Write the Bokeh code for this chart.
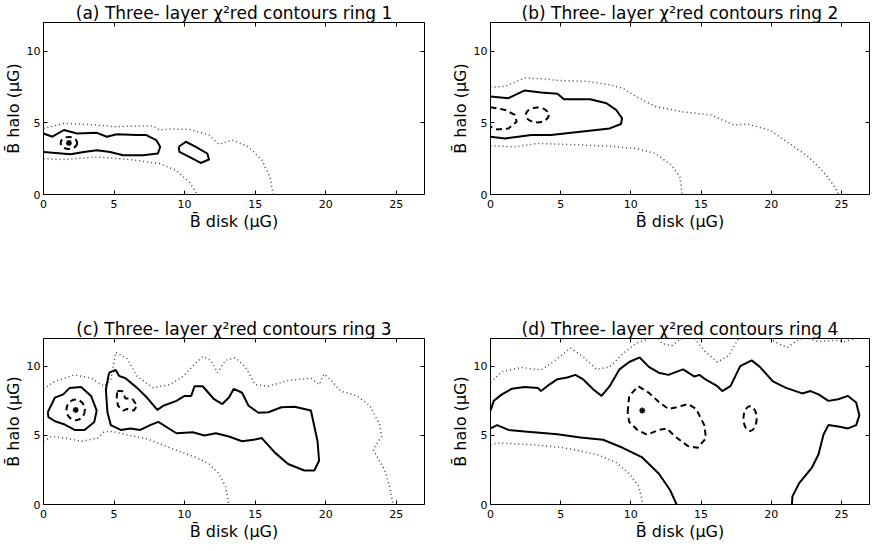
from bokeh.plotting import figure
from bokeh.layouts import gridplot
from bokeh.models import FixedTicker, LinearAxis
from bokeh.embed import file_html
from bokeh.resources import INLINE

titles = ["(a) Three- layer χ²red contours ring 1", "(b) Three- layer χ²red contours ring 2",
          "(c) Three- layer χ²red contours ring 3", "(d) Three- layer χ²red contours ring 4"]
x_ticks = [0, 5, 10, 15, 20, 25]
y_ticks = [0, 5, 10]

# ---- ring 1
a_solid = [
    ([0, 0.63, 1.45, 2.38, 3.79, 4.49, 5.19, 6.59, 7.29, 7.99, 8.27, 8.11, 7.06, 5.65, 4.72, 3.79, 2.85, 1.92, 0.86, 0],
     [4.26, 4.03, 4.5, 4.26, 4.3, 4.03, 4.2, 4.15, 4.15, 3.8, 3.33, 2.86, 2.74, 2.74, 2.97, 3.09, 2.97, 2.81, 2.9, 2.97]),
    ([9.58, 10.09, 10.79, 11.61, 11.73, 11.14, 10.33, 9.63, 9.58],
     [3.33, 3.68, 3.33, 2.86, 2.44, 2.2, 2.62, 2.97, 3.33]),
]
a_dotted = [
    ([0, 1.45, 3.79, 4.95, 6.82, 7.76, 8.22, 8.93, 10.33, 11.73, 12.43, 13.36, 14.53, 15.47, 16.05, 16.28],
     [4.6, 4.96, 4.85, 4.73, 4.78, 4.78, 4.5, 4.57, 4.54, 4.15, 3.5, 3.8, 3.33, 2.4, 1.22, 0]),
    ([0, 1.45, 3.79, 6.12, 8.22, 9.39, 10.33, 10.91],
     [2.5, 2.44, 2.62, 2.44, 2.15, 1.69, 0.87, 0]),
]
a_dashed = []
a_ell = [(1.8, 3.6, 1.16, 0.84)]
a_star = ([1.8], [3.6])

# ---- ring 2
b_solid = [
    ([0, 1.28, 2.44, 3.6, 4.77, 5.23, 7.09, 8.26, 8.95, 9.37, 9.3, 8.49, 6.4, 4.3, 2.9, 1.98, 1.05, 0],
     [6.84, 6.72, 7.26, 7.12, 7.03, 6.65, 6.65, 6.37, 5.9, 5.32, 4.92, 4.61, 4.38, 4.15, 4.15, 4.03, 3.91, 4.03]),
]
b_dashed = [
    ([0, 1.05, 1.74, 1.86, 1.28, 0.47, 0],
     [6.09, 5.9, 5.55, 5.08, 4.61, 4.54, 4.73]),
]
b_ell = [(3.33, 5.55, 1.62, 1.04)]
b_dotted = [
    ([0, 1.05, 2.44, 3.84, 4.77, 6.86, 8.49, 9.42, 10.35, 11.74, 13.6, 15.7, 17.33, 18.26, 19.88, 21.28, 22.67, 23.84, 24.53, 24.81],
     [7.49, 7.54, 8.13, 8.06, 7.96, 7.89, 7.66, 7.42, 6.84, 6.14, 5.78, 5.55, 4.85, 4.92, 4.5, 3.56, 2.62, 1.45, 0.52, 0]),
    ([0, 1.74, 3.37, 5.7, 8.49, 10.35, 11.74, 12.9, 13.49, 13.65],
     [3.4, 3.33, 3.56, 3.49, 3.37, 3.21, 2.86, 2.04, 1.22, 0]),
]
b_star = ([], [])

# ---- ring 3
c_solid = [
    ([0.3, 0.81, 1.4, 1.86, 2.67, 3.37, 3.77, 3.6, 2.91, 2.21, 1.51, 0.81, 0.35, 0.3],
     [6.67, 7.73, 7.96, 8.43, 8.5, 7.85, 6.79, 5.97, 5.39, 5.39, 5.78, 6.02, 6.32, 6.67]),
    ([4.65, 5.12, 5.35, 5.81, 6.63, 7.33, 8.07, 8.49, 9.42, 10.0, 10.47, 10.7, 11.28, 12.09, 12.67, 13.14, 13.49,
      14.07, 14.53, 15.23, 15.93, 16.86, 17.79, 18.95, 19.42, 19.53, 19.19, 18.49, 17.33, 16.4, 15.47, 14.88, 14.07,
      13.14, 12.21, 11.4, 10.58, 9.42, 8.14, 7.56, 6.86, 6.16, 5.47, 4.77, 4.53, 4.42, 4.65],
     [9.53, 9.72, 9.3, 9.13, 8.43, 7.73, 6.84, 7.14, 7.49, 7.85, 7.85, 8.55, 8.55, 7.61, 7.26, 7.73, 8.36,
      8.08, 7.14, 6.63, 6.67, 7.03, 7.07, 6.79, 4.57, 3.16, 2.46, 2.46, 2.93, 3.75, 4.8, 4.68, 4.57,
      4.92, 5.15, 4.99, 5.22, 5.15, 5.97, 5.74, 5.39, 5.5, 5.39, 5.74, 6.67, 8.31, 9.53]),
]
c_dashed = [
    ([5.23, 5.58, 5.81, 6.28, 6.63, 6.4, 5.93, 5.65, 5.28, 5.19, 5.23],
     [8.2, 8.2, 7.66, 7.66, 7.14, 6.79, 6.91, 6.79, 7.14, 7.73, 8.2]),
]
c_ell = [(2.28, 6.84, 1.3, 1.5)]
c_dotted = [
    ([0, 0.81, 2.21, 3.37, 4.3, 4.77, 5.12, 5.93, 6.63, 7.79, 8.95, 9.88, 10.58, 11.28, 11.86, 12.33, 12.9, 13.6,
      14.3, 15.0, 15.93, 17.33, 18.26, 18.95, 19.53, 19.88, 20.35, 21.05, 22.21, 23.14, 23.84, 23.95, 23.37, 24.19,
      24.53, 24.77],
     [8.36, 8.9, 9.37, 9.13, 8.55, 9.02, 11.0, 10.54, 9.25, 8.43, 8.67, 9.25, 10.0, 10.7, 10.42, 9.53, 10.42, 10.61,
      9.95, 8.67, 8.55, 8.97, 9.06, 9.13, 8.67, 9.44, 9.02, 8.2, 7.85, 7.14, 5.74, 4.92, 3.98, 2.46,
      1.29, 0]),
    ([0, 0.58, 1.51, 2.67, 3.84, 4.3, 4.88, 6.16, 7.33, 8.95, 10.81, 11.74, 12.44, 12.9, 13.14],
     [4.57, 4.92, 4.8, 4.57, 4.8, 5.27, 5.27, 4.99, 4.75, 4.1, 3.4, 2.93, 2.22, 1.29, 0]),
]
c_star = ([2.28], [6.84])

# ---- ring 4
d_solid = [
    ([0, 0.23, 0.81, 1.51, 2.44, 3.37, 3.6, 4.19, 4.77, 5.47, 6.05, 6.63, 7.33, 7.91, 8.49, 9.19, 9.88, 10.63,
      11.28, 11.98, 12.67, 13.72, 14.53, 14.88, 15.35, 16.16, 16.51, 17.09, 17.79, 18.6, 19.19, 20.12, 21.05,
      22.21, 22.79, 23.37, 24.07, 24.77, 25.47, 26.05, 26.28, 26.05, 25.47, 24.88, 24.07, 23.72, 23.37, 22.91,
      21.98, 21.51, 21.47],
     [6.79, 7.49, 7.96, 8.36, 8.5, 8.43, 8.2, 8.67, 9.06, 9.18, 9.37, 9.02, 8.31, 7.85, 8.55, 9.77, 10.3, 10.63,
      9.95, 9.53, 9.37, 9.77, 9.25, 9.37, 9.02, 8.55, 8.2, 8.55, 10.0, 10.42, 9.95, 8.9, 8.43,
      8.03, 8.2, 7.96, 7.49, 7.61, 7.85, 7.38, 6.44, 5.74, 5.5, 5.62, 5.74, 5.04, 3.63, 2.69,
      1.52, 0.59, 0]),
    ([0, 0.47, 1.28, 2.44, 4.77, 6.4, 8.02, 9.42, 10.81, 12.0, 12.79, 13.26],
     [5.5, 5.74, 5.39, 5.27, 5.08, 4.85, 4.68, 4.1, 3.4, 2.22, 1.05, 0]),
]
d_dashed = [
    ([9.77, 9.88, 10.53, 11.28, 11.98, 12.67, 13.26, 14.07, 14.65, 15.23, 15.35, 14.77, 14.07, 13.14, 12.56,
      11.98, 11.16, 10.47, 9.88, 9.77],
     [6.67, 7.85, 8.55, 8.08, 7.42, 6.91, 7.03, 7.26, 6.91, 5.74, 4.8, 4.1, 4.22, 4.92, 5.5,
      5.39, 5.04, 5.39, 5.97, 6.67]),
]
d_ell = [(18.49, 6.21, 0.94, 1.78)]
d_dotted = [
    ([0, 0.58, 2.91, 5.23, 7.56, 8.95, 9.88, 10.58, 10.86],
     [4.33, 4.45, 4.33, 4.1, 3.63, 3.04, 2.22, 1.29, 0]),
    ([0, 0.81, 2.21, 3.6, 4.77, 5.7, 6.63, 7.56, 8.49, 9.42, 10.35, 11.28],
     [8.83, 9.6, 9.91, 9.72, 10.54, 11.31, 10.66, 9.77, 9.95, 10.89, 11.64, 12.0]),
    ([11.98, 12.21, 12.91, 13.49, 13.72], [12.0, 11.64, 11.48, 11.94, 12.0]),
    ([14.53, 15.23, 16.16, 16.98, 17.67], [12.0, 11.12, 10.3, 10.77, 12.0]),
    ([19.88, 20.58, 21.16, 21.74, 22.21], [12.0, 11.59, 11.36, 11.78, 12.0]),
    ([22.67, 23.37, 24.53, 25.23, 25.93], [12.0, 11.78, 11.87, 11.78, 12.0]),
]
d_star = ([10.81], [6.79])

panels = [
    (a_solid, a_dashed, a_dotted, a_ell, a_star),
    (b_solid, b_dashed, b_dotted, b_ell, b_star),
    (c_solid, c_dashed, c_dotted, c_ell, c_star),
    (d_solid, d_dashed, d_dotted, d_ell, d_star),
]

# geometry per panel: (width, height, left, right, top, bottom)
geo = [(435, 300, 38, 11, 16, 106), (435, 300, 55, 1, 16, 106),
       (435, 243, 37, 11, 38, 31), (435, 243, 55, 1, 38, 31)]

figs = []
for i, (solid, dashed, dotted, ells, star) in enumerate(panels):
    w, h, bl, br, bt, bb = geo[i]
    p = figure(width=w, height=h, x_range=(0, 27), y_range=(0, 12), output_backend="svg",
               toolbar_location=None, min_border_left=bl, min_border_right=br,
               min_border_top=bt, min_border_bottom=bb, title=titles[i])
    p.title.text_font = "DejaVu Sans"
    p.title.text_font_size = "17px"
    p.title.text_font_style = "normal"
    p.title.text_color = "black"
    p.title.align = "center"
    p.title.standoff = 0
    p.grid.visible = False
    p.outline_line_color = "black"
    p.outline_line_width = 1
    p.xaxis.axis_label = "B̄ disk (μG)"
    p.yaxis.axis_label = "B̄ halo (μG)"
    for ax in (p.xaxis[0], p.yaxis[0]):
        ax.axis_label_text_font = "DejaVu Sans"
        ax.axis_label_text_font_size = "16px"
        ax.axis_label_text_font_style = "normal"
        ax.axis_label_text_color = "black"
        ax.axis_label_standoff = 1
    p.xaxis.ticker = FixedTicker(ticks=x_ticks)
    p.yaxis.ticker = FixedTicker(ticks=y_ticks)
    top = LinearAxis(ticker=FixedTicker(ticks=x_ticks), major_label_overrides={t: "" for t in x_ticks},
                     major_label_standoff=0)
    right = LinearAxis(ticker=FixedTicker(ticks=y_ticks), major_label_overrides={t: "" for t in y_ticks},
                       major_label_standoff=0)
    p.add_layout(top, "above")
    p.add_layout(right, "right")
    for ax in p.axis:
        ax.major_tick_in = 4
        ax.major_tick_out = 0
        ax.minor_tick_line_color = None
        ax.axis_line_color = None
        ax.major_tick_line_color = "black"
        ax.major_label_text_font = "DejaVu Sans"
        ax.major_label_text_font_size = "11px"
        ax.major_label_text_color = "black"
    p.xaxis[0].major_label_standoff = 2
    p.yaxis[0].major_label_standoff = 3
    for xs, ys in solid:
        p.line(xs, ys, line_color="black", line_width=2)
    for xs, ys in dashed:
        p.line(xs, ys, line_color="black", line_width=2, line_dash="6 4")
    for xs, ys in dotted:
        p.line(xs, ys, line_color="#444444", line_width=1.5, line_dash="1 3")
    for cx, cy, ew, eh in ells:
        p.ellipse(x=cx, y=cy, width=ew, height=eh, fill_color=None, line_color="black",
                  line_width=2, line_dash="6 4")
    if star[0]:
        p.scatter(star[0], star[1], marker="asterisk", size=6, line_color="black", line_width=1.5)
    figs.append(p)

grid = gridplot([[figs[0], figs[1]], [figs[2], figs[3]]], toolbar_location=None)
open("out.html", "w").write(file_html(grid, INLINE))
